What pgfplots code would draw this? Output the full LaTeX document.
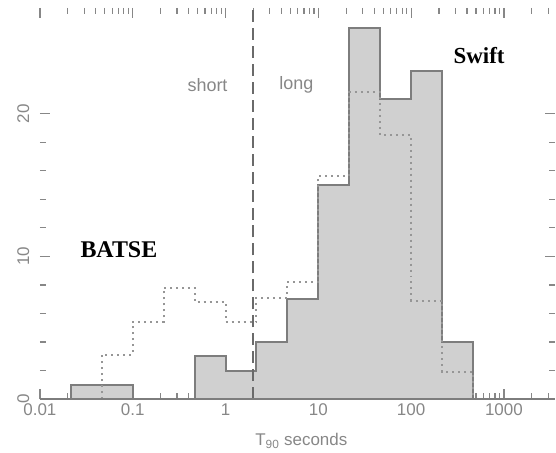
\documentclass[border=0pt]{standalone}
\usepackage{pgfplots}
\pgfplotsset{compat=1.18}
\usepackage{fontspec}
\setmainfont{Liberation Sans}
\newfontfamily\tnr{Liberation Serif}
\definecolor{swfill}{RGB}{208,208,208}
\definecolor{swedge}{RGB}{125,125,125}
\definecolor{bdot}{RGB}{150,150,150}
\definecolor{txtgray}{RGB}{135,135,135}
\begin{document}
\begin{tikzpicture}
\begin{axis}[
  scale only axis, width=516pt, height=392pt,
  xmode=log, log basis x=10,
  xmin=0.01, xmax=3532, ymin=0, ymax=27.4,
  xtick={0.01,0.1,1,10,100,1000},
  xticklabels={0.01,0.1,1,10,100,1000},
  minor xtick={0.02,0.03,0.04,0.05,0.06,0.07,0.08,0.09,
               0.2,0.3,0.4,0.5,0.6,0.7,0.8,0.9,
               2,3,4,5,6,7,8,9,
               20,30,40,50,60,70,80,90,
               200,300,400,500,600,700,800,900,
               2000,3000},
  ytick={0,10,20}, minor y tick num=4,
  axis line style={draw=none},
  tick style={color=txtgray, line width=1.2pt},
  major tick length=10pt, minor tick length=6pt,
  tick label style={font=\fontsize{17}{20}\selectfont, text=txtgray},
  yticklabel style={xshift=-7pt, rotate=90, anchor=south},
  xticklabel style={anchor=north, yshift=-1pt},
  /pgf/number format/assume math mode=true,
  xlabel={T\textsubscript{90} seconds},
  xlabel style={font=\fontsize{17}{20}\selectfont, text=txtgray, at={(axis description cs:0.5,0)}, anchor=base, yshift=-47pt, xshift=4pt},
  clip=false,
]
% Swift histogram
\addplot[const plot, fill=swfill, draw=swedge, line width=2pt] coordinates {
  (0.021544,1) (0.046416,1) (0.1,0) (0.21544,0) (0.46416,3) (1,2)
  (2.1544,4) (4.6416,7) (10,15) (21.544,26) (46.416,21) (100,23)
  (215.44,4) (464.16,0)
} \closedcycle;
% BATSE histogram (scaled)
\addplot[const plot, draw=bdot, line width=2pt, dash pattern=on 2pt off 4pt] coordinates {
  (0.046416,0) (0.046416,3.1) (0.1,5.4) (0.21544,7.8) (0.46416,6.8) (1,5.4)
  (2.1544,7.1) (4.6416,8.2) (10,15.6) (21.544,21.5) (46.416,18.5) (100,6.9)
  (215.44,1.9) (464.16,0)
};
% short/long divide
\addplot[draw=swedge!85!black, line width=2pt, dash pattern=on 12pt off 6pt] coordinates {(2,0) (2,27.4)};
\draw[swedge, line width=2.5pt] (rel axis cs:0,0) -- (rel axis cs:1,0);
\node[text=txtgray, font=\fontsize{18}{21}\selectfont] at (axis cs:0.64,22) {short};
\node[text=txtgray, font=\fontsize{18}{21}\selectfont] at (axis cs:5.8,22) {long};
\node[font=\tnr\bfseries\fontsize{23}{26}\selectfont] at (axis cs:540,24.1) {Swift};
\node[font=\tnr\bfseries\fontsize{24}{27}\selectfont] at (axis cs:0.071,10.5) {BATSE};
\end{axis}
\path[use as bounding box] (-40pt,-54pt) rectangle (516pt,400pt);
\end{tikzpicture}
\end{document}
